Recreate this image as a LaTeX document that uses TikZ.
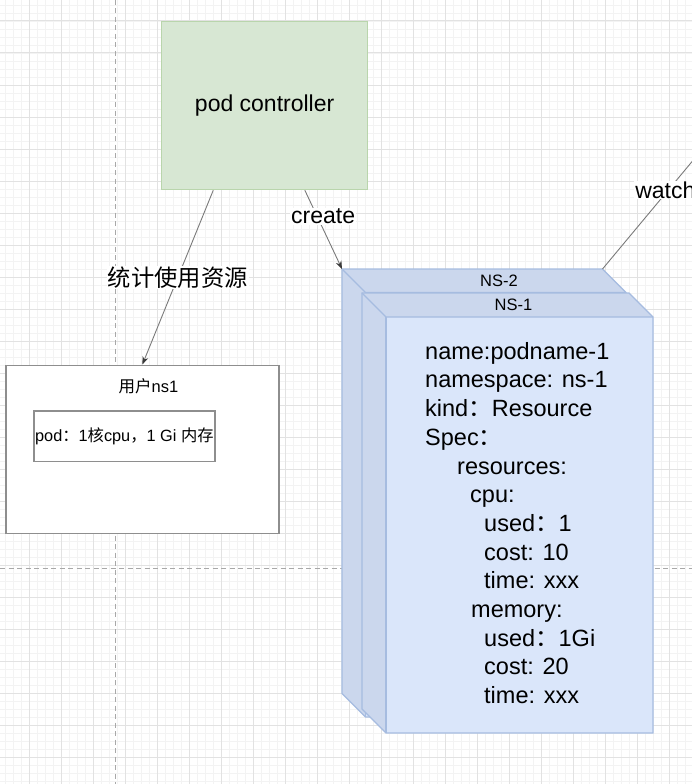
\documentclass[tikz,border=0pt]{standalone}
\usepackage{fontspec}
\setmainfont{Liberation Sans}
\newfontfamily\cjk{Noto Sans CJK SC}
\usetikzlibrary{arrows.meta,calc}
\definecolor{gridminor}{HTML}{F3F3F3}
\definecolor{gridmajor}{HTML}{E2E2E2}
\definecolor{guide}{HTML}{A8A8A8}
\definecolor{pcfill}{HTML}{D7E7D3}
\definecolor{pcdraw}{HTML}{B9D5AC}
\definecolor{nsfront}{HTML}{DAE6FA}
\definecolor{nsside}{HTML}{CBD7ED}
\definecolor{nsdraw}{HTML}{A6BCE0}
\definecolor{boxdraw}{HTML}{8E8E8E}
\definecolor{conncol}{HTML}{7A7A7A}
\definecolor{tipcol}{HTML}{3A3A3A}
\newcommand\nscube[2]{%
  \fill[nsfront] (#1.north west) -- ($(#1.north east)+(-#2,0)$) -- ($(#1.north east)+(0,#2)$)
     -- (#1.south east) -- ($(#1.south west)+(#2,0)$) -- ($(#1.south west)+(0,-#2)$) -- cycle;
  \fill[nsside] (#1.north west) -- ($(#1.north east)+(-#2,0)$) -- ($(#1.north east)+(0,#2)$)
     -- ($(#1.north west)+(#2,#2)$) -- cycle;
  \fill[nsside] (#1.north west) -- ($(#1.north west)+(#2,#2)$) -- ($(#1.south west)+(#2,0)$)
     -- ($(#1.south west)+(0,-#2)$) -- cycle;
  \draw[nsline] (#1.north west) -- ($(#1.north east)+(-#2,0)$) -- ($(#1.north east)+(0,#2)$)
     -- (#1.south east) -- ($(#1.south west)+(#2,0)$) -- ($(#1.south west)+(0,-#2)$) -- cycle;
  \draw[nsline] (#1.north west) -- ($(#1.north west)+(#2,#2)$) -- ($(#1.north east)+(0,#2)$);
  \draw[nsline] ($(#1.north west)+(#2,#2)$) -- ($(#1.south west)+(#2,0)$);
}
\begin{document}
\begin{tikzpicture}[x=1pt,y=-1pt,
  minorline/.style={draw=gridminor,line width=0.8pt},
  majorline/.style={draw=gridmajor,line width=1pt},
  guideline/.style={draw=guide,line width=1pt,dash pattern=on 5pt off 3.5pt},
  pcbox/.style={draw=pcdraw,fill=pcfill,line width=1.3pt,minimum width=206pt,minimum height=168pt,
    font=\fontsize{23}{27}\selectfont,inner sep=0pt},
  graybox/.style={draw=boxdraw,fill=white,line width=1.8pt,inner sep=0pt},
  cubebox/.style={inner sep=0pt,outer sep=0pt},
  nsline/.style={draw=nsdraw,line width=1.1pt},
  nslabel/.style={font=\fontsize{16.5}{19}\selectfont,inner sep=0pt},
  nstext/.style={font=\fontsize{23.5}{28.7}\selectfont,align=left,inner sep=0pt},
  conn/.style={draw=conncol,line width=0.9pt},
  tip/.style={-{Stealth[length=8pt,width=6pt,color=tipcol]}},
  lbl/.style={fill=white,inner sep=1pt,font=\fontsize{23}{27}\selectfont},
  cjklbl/.style={fill=white,inner sep=1pt,font=\cjk\fontsize{23.3}{27}\selectfont}]
\useasboundingbox (0,0) rectangle (692,784);
\fill[white] (0,0) rectangle (692,784);
% grid
\foreach \x in {5,13,...,691} \draw[minorline] (\x,0) -- (\x,784);
\foreach \y in {5,13,...,783} \draw[minorline] (0,\y) -- (692,\y);
\foreach \x in {29,61,...,691} \draw[majorline] (\x,0) -- (\x,784);
\foreach \y in {21,53,...,783} \draw[majorline] (0,\y) -- (692,\y);
\draw[guideline] (115.5,0) -- (115.5,784);
\draw[guideline] (0,568) -- (692,568);

% pod controller
\node[pcbox,anchor=north west] (pc) at (161,21) {pod controller};

% user ns1 box
\node[graybox,anchor=north west,minimum width=273pt,minimum height=168pt] (ns1) at (5,364.5) {};
\node[font=\fontsize{16.5}{19}\selectfont,inner sep=0pt] (ns1title) at (148.5,386) {{\cjk 用户}ns1};
\node[graybox,anchor=north west,minimum width=181pt,minimum height=50.5pt,
      font=\fontsize{16.3}{19}\selectfont] (podbox) at (33,410)
      {pod{\cjk ：}1{\cjk 核}cpu{\cjk ，}1 Gi {\cjk 内存}};

% cubes
\node[cubebox,anchor=north west,minimum width=284pt,minimum height=448pt] (ns2) at (342,269) {};
\nscube{ns2}{23.5}
\node[nslabel] (ns2lbl) at (499,280.5) {NS-2};
\node[cubebox,anchor=north west,minimum width=291pt,minimum height=440pt] (nsone) at (362,293) {};
\nscube{nsone}{24}
\node[nslabel] (ns1lbl) at (513.5,304.5) {NS-1};
\node[nstext,anchor=north west] (spec) at (425,342) {name:podname-1\\
namespace: ns-1\\
kind{\cjk ：}Resource\\
Spec{\cjk ：}\\
\hspace*{32pt}resources:\\
\hspace*{45pt}cpu:\\
\hspace*{59pt}used{\cjk ：}1\\
\hspace*{59pt}cost: 10\\
\hspace*{59pt}time: xxx\\
\hspace*{46pt}memory:\\
\hspace*{59pt}used{\cjk ：}1Gi\\
\hspace*{59pt}cost: 20\\
\hspace*{59pt}time: xxx};

% connectors
\coordinate (watchend) at (720,128);
\draw[conn,tip] ($(pc.south west)!0.252!(pc.south east)$) -- node[cjklbl,pos=0.5]{统计使用资源} (ns1.north);
\draw[conn,tip] ($(pc.south west)!0.694!(pc.south east)$) -- node[lbl,pos=0.33,xshift=6pt]{create} (ns2.north west);
\draw[conn] ($(ns2.north east)+(-23.5,0)$) -- node[lbl,pos=0.56,xshift=-3pt]{watch} (watchend);
\end{tikzpicture}
\end{document}
